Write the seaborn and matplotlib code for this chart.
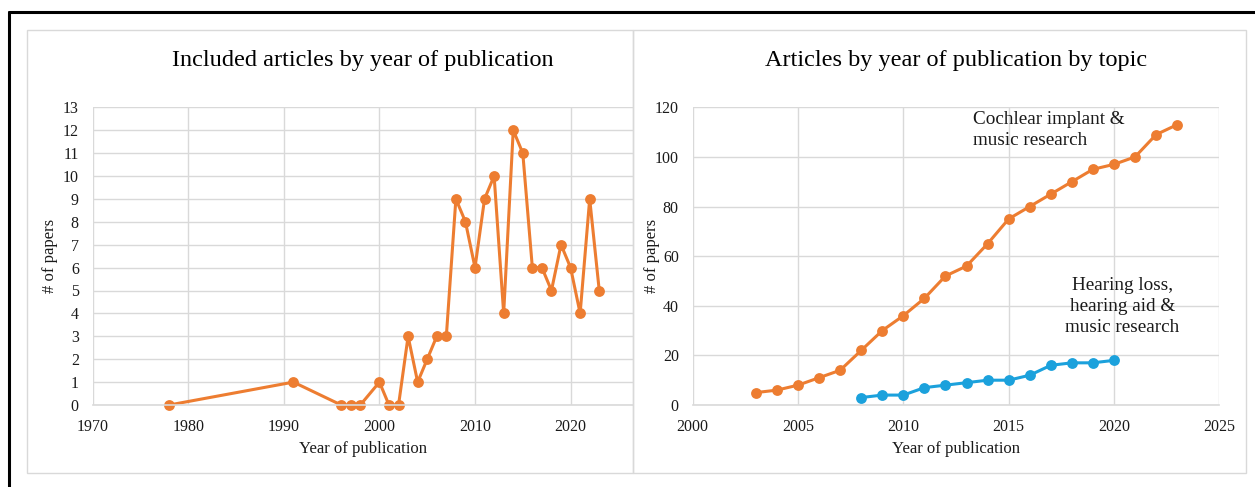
import numpy as np
import pandas as pd

import matplotlib
matplotlib.use('Agg')

import matplotlib.pyplot as plt
from matplotlib.lines import Line2D
from matplotlib.patches import Rectangle

import seaborn as sns

# included articles per year
years_all = [1978, 1991, 1996, 1997, 1998, 2000, 2001, 2002, 2003, 2004, 2005, 2006,
             2007, 2008, 2009, 2010, 2011, 2012, 2013, 2014, 2015, 2016, 2017, 2018,
             2019, 2020, 2021, 2022, 2023]
papers_all = [0, 1, 0, 0, 0, 1, 0, 0, 3, 1, 2, 3, 3, 9, 8, 6, 9, 10, 4, 12, 11, 6, 6, 5,
              7, 6, 4, 9, 5]

# cumulative articles by topic
years_ci = list(range(2003, 2024))
papers_ci = [5, 6, 8, 11, 14, 22, 30, 36, 43, 52, 56, 65, 75, 80, 85, 90, 95, 97, 100, 109, 113]
years_ha = list(range(2008, 2021))
papers_ha = [3, 4, 4, 7, 8, 9, 10, 10, 12, 16, 17, 17, 18]

ORANGE = '#ED7D31'
BLUE = '#1BA1DC'
GRID = '#D9D9D9'
TXT = '#1a1a1a'

sns.set_style('white')
plt.rcParams['font.family'] = ['Liberation Serif', 'DejaVu Serif']

W, H = 1255, 487
fig = plt.figure(figsize=(W / 100, H / 100), dpi=100)


def fx(px):
    return px / W


def fy(py):
    return 1 - py / H


# outer frame (black, only top/left visible) and grey panel borders
fig.add_artist(Line2D([fx(9), fx(W)], [fy(12), fy(12)], color='black', lw=2.2))
fig.add_artist(Line2D([fx(9), fx(9)], [fy(12), 0], color='black', lw=2.2))
fig.add_artist(Rectangle((fx(27), fy(473)), fx(633 - 27), (473 - 30) / H,
                         fill=False, ec=GRID, lw=1.0))
fig.add_artist(Rectangle((fx(633), fy(473)), fx(1246 - 633), (473 - 30) / H,
                         fill=False, ec=GRID, lw=1.0))

ax1 = fig.add_axes([fx(92.7), fy(405), fx(632.7 - 92.7), (405 - 107.3) / H])
ax2 = fig.add_axes([fx(692.7), fy(405), fx(1219.3 - 692.7), (405 - 107.3) / H])

line_kw = dict(marker='o', markersize=7.8, markeredgewidth=0, linewidth=2.2, clip_on=False)

df_all = pd.DataFrame({'year': years_all, 'papers': papers_all})
sns.lineplot(data=df_all, x='year', y='papers', ax=ax1, color=ORANGE, **line_kw)

df_ci = pd.DataFrame({'year': years_ci, 'papers': papers_ci})
df_ha = pd.DataFrame({'year': years_ha, 'papers': papers_ha})
sns.lineplot(data=df_ci, x='year', y='papers', ax=ax2, color=ORANGE, **line_kw)
sns.lineplot(data=df_ha, x='year', y='papers', ax=ax2, color=BLUE, **line_kw)

ax1.set_xlim(1970, 2026.5)
ax1.set_ylim(0, 13)
ax1.set_xticks(range(1970, 2021, 10))
ax1.set_yticks(range(0, 14))

ax2.set_xlim(2000, 2025)
ax2.set_ylim(0, 120)
ax2.set_xticks(range(2000, 2026, 5))
ax2.set_yticks(range(0, 121, 20))

for ax in (ax1, ax2):
    ax.grid(True, color=GRID, lw=1.0)
    ax.set_axisbelow(True)
    for side in ('top', 'right', 'left'):
        ax.spines[side].set_visible(False)
    ax.spines['bottom'].set_color(GRID)
    ax.spines['bottom'].set_linewidth(1.2)
    ax.tick_params(axis='both', length=0, labelsize=11.5, colors=TXT, pad=10)
    ax.set_xlabel('Year of publication', fontsize=12, color=TXT)
    ax.set_ylabel('# of papers', fontsize=12, color=TXT)
    ax.patch.set_alpha(0)

ax1.yaxis.set_label_coords(-0.0645, 0.5)
ax2.yaxis.set_label_coords(-0.062, 0.5)
ax1.xaxis.set_label_coords(0.5, -0.122)
ax2.xaxis.set_label_coords(0.5, -0.122)

ax1.set_title('Included articles by year of publication', fontsize=17.5, color='black', pad=30)
ax2.set_title('Articles by year of publication by topic', fontsize=17.5, color='black', pad=30)

ax2.text(2013.3, 118.5, 'Cochlear implant &\nmusic research', ha='left', va='top',
         fontsize=13.8, color=TXT, linespacing=1.28)
ax2.text(2020.4, 51.5, 'Hearing loss,\nhearing aid &\nmusic research', ha='center', va='top',
         fontsize=13.8, color=TXT, linespacing=1.28)

plt.savefig('out.png', dpi=100)
plt.close()
